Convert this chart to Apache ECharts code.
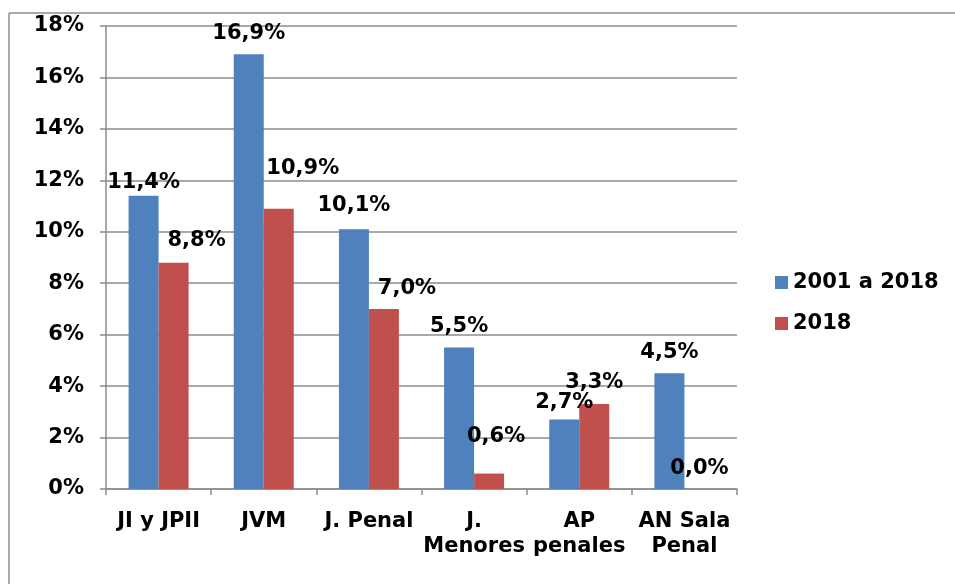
<!DOCTYPE html>
<html>
<head>
<meta charset="utf-8">
<script src="https://cdn.jsdelivr.net/npm/echarts@6/dist/echarts.min.js"></script>
<style>
html,body{margin:0;padding:0;background:#fff;overflow:hidden;}
#chart{width:955px;height:584px;}
</style>
</head>
<body>
<div id="chart"></div>
<script>
var categories = ['JI y JPII', 'JVM', 'J. Penal', 'J.\nMenores', 'AP\npenales', 'AN Sala\nPenal'];
var seriesNames = ['2001 a 2018', '2018'];
var values2001_2018 = [11.4, 16.9, 10.1, 5.5, 2.7, 4.5];
var values2018 = [8.8, 10.9, 7.0, 0.6, 3.3, 0.0];
var yTicks = [0, 2, 4, 6, 8, 10, 12, 14, 16, 18];

var FONT = 'DejaVu Sans';
var FS = 21;
var GRAY = '#8c8c8c';

// label nudges (manual placement in the original)
var blueNudge = [[0,7],[0,0],[0,-3],[0,0],[0,3],[0,0]];
var redNudge  = [[23,-2],[24,-20],[23,0],[7,-17],[0,-1],[0,0]];

function fmt(v){ return v.toFixed(1).replace('.', ',') + '%'; }

function buildData(vals, nudges){
  return vals.map(function(v, i){
    return { value: v, label: { offset: nudges[i] } };
  });
}

var labelStyle = {
  show: true, position: 'top', distance: 10,
  fontFamily: FONT, fontWeight: 'bold', fontSize: FS, color: '#000',
  formatter: function(p){ return fmt(p.value); }
};

var chart = echarts.init(document.getElementById('chart'));
chart.setOption({
  animation: false,
  backgroundColor: '#fff',
  textStyle: { fontFamily: FONT },
  graphic: [
    { type: 'line', shape: { x1: 9, y1: 13, x2: 955, y2: 13 },
      style: { stroke: GRAY, lineWidth: 1.5, lineCap: 'butt' }, silent: true },
    { type: 'line', shape: { x1: 9, y1: 13, x2: 9, y2: 584 },
      style: { stroke: GRAY, lineWidth: 1.5, lineCap: 'butt' }, silent: true }
  ],
  grid: { left: 106, right: 218, top: 26, bottom: 95, containLabel: false },
  legend: {
    orient: 'vertical', left: 775, top: 272, padding: 0,
    itemWidth: 13, itemHeight: 13, itemGap: 20,
    icon: 'rect',
    textStyle: { fontFamily: FONT, fontWeight: 'bold', fontSize: FS, color: '#000' },
    data: seriesNames
  },
  xAxis: {
    type: 'category', data: categories,
    axisLine: { lineStyle: { color: GRAY, width: 1.5 } },
    axisTick: { show: true, alignWithLabel: false, length: 6, lineStyle: { color: GRAY, width: 1.5 } },
    axisLabel: { interval: 0, margin: 20, fontFamily: FONT, fontWeight: 'bold', fontSize: FS, color: '#000', lineHeight: 25 }
  },
  yAxis: {
    type: 'value', min: yTicks[0], max: yTicks[yTicks.length-1], interval: 2,
    axisLine: { show: true, lineStyle: { color: GRAY, width: 1.5 } },
    axisTick: { show: true, length: 6, lineStyle: { color: GRAY, width: 1.5 } },
    splitLine: { lineStyle: { color: GRAY, width: 1.5 } },
    axisLabel: { margin: 22, fontFamily: FONT, fontWeight: 'bold', fontSize: FS, color: '#000', formatter: function(v){ return v + '%'; } }
  },
  series: [
    { name: seriesNames[0], type: 'bar', barWidth: 30, barGap: '0%',
      itemStyle: { color: '#4F81BD' }, label: labelStyle,
      data: buildData(values2001_2018, blueNudge) },
    { name: seriesNames[1], type: 'bar', barWidth: 30, barGap: '0%',
      itemStyle: { color: '#C0504D' }, label: labelStyle,
      data: buildData(values2018, redNudge) }
  ]
});
</script>
</body>
</html>
